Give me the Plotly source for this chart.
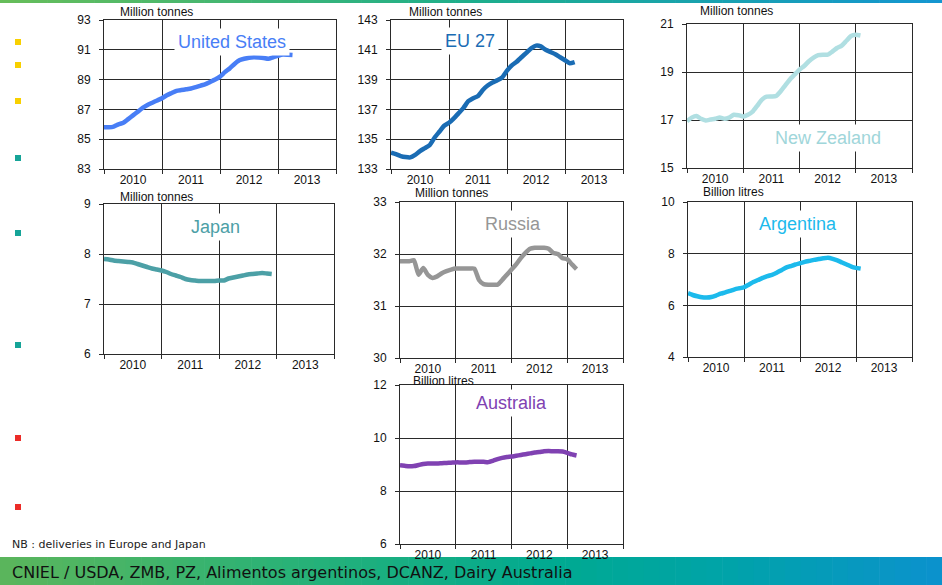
import plotly.graph_objects as go

# ---------------- data (monthly, starting January 2010) ----------------
years = ["2010", "2011", "2012", "2013"]

us_vals = [85.8, 85.8, 85.85, 86.0, 86.1, 86.35, 86.6, 86.85, 87.1, 87.3, 87.45, 87.6,
           87.75, 87.95, 88.1, 88.25, 88.3, 88.35, 88.4, 88.5, 88.6, 88.7, 88.85, 89.0,
           89.2, 89.5, 89.75, 90.05, 90.3, 90.4, 90.47, 90.5, 90.48, 90.45, 90.4, 90.5,
           90.6, 90.68, 90.67, 90.65]

eu_vals = [134.1, 134.0, 133.87, 133.8, 133.78, 133.95, 134.2, 134.4, 134.6, 135.1, 135.5, 135.9,
           136.1, 136.4, 136.75, 137.1, 137.55, 137.75, 137.9, 138.3, 138.6, 138.8, 138.95, 139.15,
           139.6, 139.95, 140.2, 140.5, 140.8, 141.1, 141.28, 141.23, 141.0, 140.85, 140.7, 140.5,
           140.3, 140.1, 140.18]

nz_vals = [16.95, 17.1, 17.17, 17.05, 16.98, 17.02, 17.05, 17.1, 17.05, 17.1, 17.22, 17.2,
           17.15, 17.22, 17.35, 17.6, 17.85, 17.97, 17.98, 18.0, 18.2, 18.45, 18.7, 18.9,
           19.1, 19.25, 19.45, 19.6, 19.7, 19.72, 19.72, 19.85, 20.0, 20.1, 20.3, 20.5,
           20.55, 20.52]

jp_vals = [7.9, 7.89, 7.87, 7.86, 7.85, 7.84, 7.83, 7.8, 7.77, 7.74, 7.71, 7.69,
           7.67, 7.64, 7.6, 7.57, 7.54, 7.5, 7.48, 7.47, 7.46, 7.46, 7.46, 7.46,
           7.47, 7.47, 7.51, 7.53, 7.55, 7.57, 7.59, 7.6, 7.61, 7.62, 7.61, 7.6]

ru_vals = [31.86, 31.86, 31.86, 31.88, 31.6, 31.73, 31.6, 31.54, 31.57, 31.63, 31.67, 31.7,
           31.72, 31.72, 31.72, 31.72, 31.72, 31.5, 31.42, 31.41, 31.41, 31.41, 31.5, 31.6,
           31.7, 31.8, 31.92, 32.02, 32.1, 32.12, 32.12, 32.12, 32.1, 32.02, 32.0, 31.92,
           31.9, 31.8, 31.71]

ar_vals = [6.47, 6.4, 6.35, 6.31, 6.3, 6.32, 6.38, 6.45, 6.5, 6.56, 6.62, 6.66,
           6.7, 6.8, 6.9, 6.98, 7.06, 7.13, 7.18, 7.26, 7.36, 7.46, 7.52, 7.58,
           7.63, 7.68, 7.72, 7.76, 7.79, 7.82, 7.84, 7.8, 7.74, 7.66, 7.58, 7.5,
           7.45, 7.42]

au_vals = [8.97, 8.95, 8.93, 8.94, 8.98, 9.02, 9.04, 9.04, 9.04, 9.05, 9.06, 9.07,
           9.08, 9.08, 9.08, 9.09, 9.1, 9.1, 9.1, 9.09, 9.14, 9.2, 9.25, 9.28,
           9.3, 9.33, 9.36, 9.39, 9.42, 9.45, 9.47, 9.5, 9.51, 9.5, 9.5, 9.49,
           9.44, 9.38, 9.34]

country_names = ["United States", "EU 27", "New Zealand", "Japan", "Russia", "Argentina", "Australia"]
units = ["Million tonnes", "Million tonnes", "Million tonnes", "Million tonnes",
         "Million tonnes", "Billion litres", "Billion litres"]
series = [us_vals, eu_vals, nz_vals, jp_vals, ru_vals, ar_vals, au_vals]

footer_note = "NB : deliveries in Europe and Japan"
source_text = "CNIEL / USDA, ZMB, PZ, Alimentos argentinos, DCANZ, Dairy Australia"

# ---------------- layout / styles ----------------
W, H = 942, 585
colors = ["rgb(72,126,246)", "rgb(26,108,180)", "rgb(176,223,226)", "rgb(76,160,166)",
          "rgb(150,150,150)", "rgb(28,186,236)", "rgb(128,66,178)"]
label_colors = list(colors)
label_colors[2] = "rgb(160,214,218)"
yranges = [(83, 93, 2), (133, 143, 2), (15, 21, 2), (6, 9, 1), (30, 33, 1), (4, 10, 2), (6, 12, 2)]
# plot boxes in pixels: left, right, top, bottom
boxes = [(104, 336, 20, 169), (391, 623, 20, 169), (687, 912, 24, 168),
         (104, 334, 204, 354), (400, 623, 202, 358), (688, 912, 202, 357),
         (400, 623, 385, 544)]
unit_pos = [(118, 12), (407, 12), (698, 11), (118, 197), (413, 193), (701, 192), (411, 381)]
name_pos = [(232, 42), (470, 41), (828, 138), (215, 227), (513, 224), (798, 224), (511, 403)]

tick_font = dict(family="Liberation Sans, Arial, sans-serif", size=12, color="#111")
grid_col = "#2a2a2a"

fig = go.Figure()
layout_axes = {}
annotations = []
shapes = []

for i, vals in enumerate(series):
    k = "" if i == 0 else str(i + 1)
    xs = [2010 + m / 12 for m in range(len(vals))]
    fig.add_trace(go.Scatter(x=xs, y=vals, mode="lines",
                             line=dict(color=colors[i], width=4.5, shape="spline", smoothing=0.5),
                             xaxis="x" + k, yaxis="y" + k, hoverinfo="skip", showlegend=False))
    l, r, t, b = boxes[i]
    y0, y1, dt = yranges[i]
    layout_axes["xaxis" + k] = dict(
        domain=[l / W, r / W], anchor="y" + k, range=[2010, 2014],
        tickmode="array", tickvals=[2010.5, 2011.5, 2012.5, 2013.5], ticktext=years,
        ticks="", showgrid=False, zeroline=False, tickfont=tick_font,
        showline=True, linecolor=grid_col, linewidth=1, mirror=True,
        minor=dict(tickmode="array", tickvals=[2010, 2011, 2012, 2013, 2014],
                   ticks="outside", ticklen=4, tickcolor=grid_col,
                   showgrid=True, gridcolor=grid_col, gridwidth=1),
        fixedrange=True)
    layout_axes["yaxis" + k] = dict(
        domain=[1 - b / H, 1 - t / H], anchor="x" + k, range=[y0, y1],
        tickmode="linear", tick0=y0, dtick=dt, ticks="outside", ticklen=4, tickcolor=grid_col,
        showgrid=True, gridcolor=grid_col, gridwidth=1, zeroline=False, tickfont=tick_font,
        showline=True, linecolor=grid_col, linewidth=1, mirror=True, ticklabelstandoff=6,
        fixedrange=True)
    ux, uy = unit_pos[i]
    annotations.append(dict(text=units[i], xref="paper", yref="paper", x=ux / W, y=1 - uy / H,
                            xanchor="left", yanchor="middle", showarrow=False,
                            font=dict(family="Liberation Sans, Arial, sans-serif", size=12, color="#111")))
    nx, ny = name_pos[i]
    annotations.append(dict(text=country_names[i], xref="paper", yref="paper", x=nx / W, y=1 - ny / H,
                            xanchor="center", yanchor="middle", showarrow=False,
                            bgcolor="white", borderpad=3,
                            font=dict(family="Liberation Sans, Arial, sans-serif", size=18,
                                      color=label_colors[i])))

# decorative bullets on the left
bullet_cols = ["rgb(248,208,0)"] * 3 + ["rgb(22,164,152)"] * 3 + ["rgb(236,44,40)"] * 2
bullet_y = [42, 65, 101, 158, 233, 345, 438, 507]
for c, by in zip(bullet_cols, bullet_y):
    shapes.append(dict(type="rect", xref="paper", yref="paper", x0=15 / W, x1=21 / W,
                       y0=1 - (by + 3) / H, y1=1 - (by - 3) / H, fillcolor=c, line=dict(width=0)))


def lerp_stops(stops, x):
    for (xa, ca), (xb, cb) in zip(stops[:-1], stops[1:]):
        if xa <= x <= xb:
            f = (x - xa) / (xb - xa)
            return "rgb(%d,%d,%d)" % tuple(int(ca[j] + (cb[j] - ca[j]) * f) for j in range(3))
    return "rgb(%d,%d,%d)" % stops[-1][1]


band_stops = [(0, (92, 182, 92)), (300, (40, 178, 120)), (560, (0, 170, 146)),
              (720, (0, 164, 168)), (942, (12, 146, 206))]
top_stops = [(0, (104, 190, 90)), (470, (30, 175, 140)), (942, (20, 150, 210))]
n_steps = 60
for s in range(n_steps):
    x0 = s * W / n_steps
    x1 = (s + 1) * W / n_steps + 0.6
    xm = (x0 + x1) / 2
    shapes.append(dict(type="rect", xref="paper", yref="paper", x0=x0 / W, x1=min(x1, W) / W,
                       y0=0, y1=1 - 557 / H, fillcolor=lerp_stops(band_stops, xm), line=dict(width=0),
                       layer="below"))
    shapes.append(dict(type="rect", xref="paper", yref="paper", x0=x0 / W, x1=min(x1, W) / W,
                       y0=1 - 3 / H, y1=1, fillcolor=lerp_stops(top_stops, xm), line=dict(width=0),
                       layer="below"))

annotations.append(dict(text=footer_note, xref="paper", yref="paper", x=10 / W, y=1 - 544 / H,
                        xanchor="left", yanchor="middle", showarrow=False,
                        font=dict(family="DejaVu Sans, Verdana, sans-serif", size=11, color="#222")))
annotations.append(dict(text=source_text, xref="paper", yref="paper", x=10 / W, y=1 - 572 / H,
                        xanchor="left", yanchor="middle", showarrow=False,
                        font=dict(family="DejaVu Sans, Verdana, sans-serif", size=16, color="#111")))

fig.update_layout(width=W, height=H, margin=dict(l=0, r=0, t=0, b=0, autoexpand=False),
                  paper_bgcolor="white", plot_bgcolor="white", showlegend=False,
                  annotations=annotations, shapes=shapes, **layout_axes)

fig.write_html("out.html", config={"displayModeBar": False})
